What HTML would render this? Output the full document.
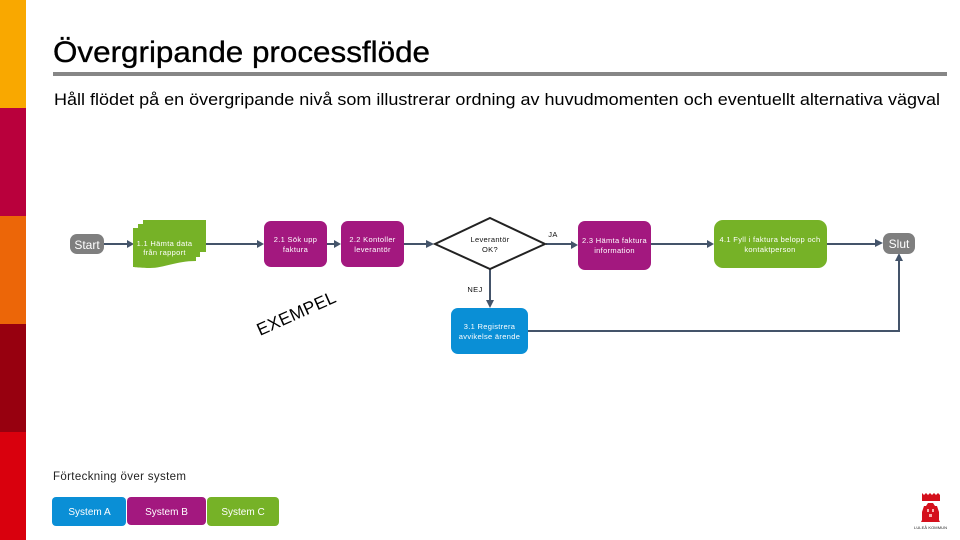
<!DOCTYPE html>
<html><head><meta charset="utf-8"><style>
html,body{margin:0;padding:0;background:#fff;width:960px;height:540px;overflow:hidden}
svg{display:block}
text{font-family:"Liberation Sans",Arial,sans-serif}
.s{font-size:7.5px;fill:#fff;text-anchor:middle;letter-spacing:.32px}
.k{font-size:7.5px;fill:#111;text-anchor:middle;letter-spacing:.32px}
.l{stroke:#44546a;stroke-width:2;fill:none}
.a{fill:#44546a}
</style></head><body>
<svg width="960" height="540" viewBox="0 0 960 540" xmlns="http://www.w3.org/2000/svg">
<rect x="0" y="0" width="26" height="108" fill="#f9a800"/>
<rect x="0" y="108" width="26" height="108" fill="#b9003c"/>
<rect x="0" y="216" width="26" height="108" fill="#ec6608"/>
<rect x="0" y="324" width="26" height="108" fill="#97000f"/>
<rect x="0" y="432" width="26" height="108" fill="#d9000d"/>
<text x="53" y="62" font-size="29.500" fill="#000" stroke="#000" stroke-width=".35" textLength="377" lengthAdjust="spacingAndGlyphs">Övergripande processflöde</text>
<rect x="53" y="72" width="894" height="4" fill="#868686"/>
<text x="54" y="105" font-size="17" fill="#000" textLength="886" lengthAdjust="spacingAndGlyphs">Håll flödet på en övergripande nivå som illustrerar ordning av huvudmomenten och eventuellt alternativa vägval</text>

<!-- connectors -->
<path class="l" d="M104 244H128M206 244H258M327 244H336M404 244H428M546 244H572M651 244H708M827 244H877M490 269V301M528 331H899V259"/>
<path class="a" d="M134 244l-7-4v8zM264 244l-7-4v8zM341 244l-7-4v8zM434 244l-8-4v8zM578 245l-7-4v8zM714 244l-7-4v8zM883 243l-8-4v8zM490 308l-4-8h8zM899 253l-4 8h8z"/>

<!-- start -->
<rect x="70" y="234" width="34" height="20" rx="7" fill="#7f7f7f"/>
<text x="87" y="249" font-size="12" fill="#fff" text-anchor="middle">Start</text>

<!-- multi document -->
<path d="M143 220H206V252H200V257H196V261C176 261 164 268 150 268C142 268 133 267 133 267V228H138V224H143Z" fill="#76b227"/>
<text class="s" x="164.500" y="246">1.1 Hämta data</text>
<text class="s" x="164.500" y="255">från rapport</text>

<rect x="264" y="221" width="63" height="46" rx="7" fill="#a3187f"/>
<text class="s" x="295.500" y="242">2.1 Sök upp</text>
<text class="s" x="295.500" y="252">faktura</text>

<rect x="341" y="221" width="63" height="46" rx="7" fill="#a3187f"/>
<text class="s" x="372.500" y="242">2.2 Kontoller</text>
<text class="s" x="372.500" y="252">leverantör</text>

<path d="M490 218L545 244L490 269L435 244Z" fill="#fff" stroke="#222" stroke-width="2"/>
<text class="k" x="490" y="242">Leverantör</text>
<text class="k" x="490" y="252">OK?</text>

<text class="k" x="553" y="237">JA</text>
<text class="k" x="475" y="292">NEJ</text>

<rect x="578" y="221" width="73" height="49" rx="7" fill="#a3187f"/>
<text class="s" x="614.500" y="243">2.3 Hämta faktura</text>
<text class="s" x="614.500" y="253">information</text>

<rect x="451" y="308" width="77" height="46" rx="7" fill="#0a8fd6"/>
<text class="s" x="489.500" y="329">3.1 Registrera</text>
<text class="s" x="489.500" y="339">avvikelse ärende</text>

<rect x="714" y="220" width="113" height="48" rx="9" fill="#76b227"/>
<text class="s" x="770" y="242">4.1 Fyll i faktura belopp och</text>
<text class="s" x="770" y="252">kontaktperson</text>

<rect x="883" y="233" width="32" height="21" rx="7" fill="#7f7f7f"/>
<text x="899" y="248" font-size="12" fill="#fff" text-anchor="middle">Slut</text>

<text transform="translate(260,336) rotate(-24)" font-size="17.500" fill="#000" letter-spacing=".3">EXEMPEL</text>

<text x="53" y="480" font-size="11.500" fill="#222" letter-spacing=".35">Förteckning över system</text>
<rect x="52" y="497" width="74" height="29" rx="4" fill="#0a8fd6"/>
<rect x="127" y="497" width="79" height="28" rx="4" fill="#a3187f"/>
<rect x="207" y="497" width="72" height="29" rx="4" fill="#76b227"/>
<text x="89.500" y="515" font-size="10" fill="#fff" text-anchor="middle">System A</text>
<text x="166.500" y="515" font-size="10" fill="#fff" text-anchor="middle">System B</text>
<text x="243" y="515" font-size="10" fill="#fff" text-anchor="middle">System C</text>

<!-- logo -->
<path d="M922 493l2 2 2-2 2 2 2-2 2 2 2-2 2 2 2-2 2 2v6h-18z" fill="#d4101c"/>
<path d="M928 503h5l2 3h2l2 6v8l1 2h-19l1-2v-8l2-6h2z" fill="#d4101c"/>
<path d="M927 509h2v3h-2zM932 509h2v3h-2zM929 514h3v3h-3z" fill="#f7b0b0"/>
<text x="930.500" y="529" font-size="4" fill="#222" text-anchor="middle" textLength="33" lengthAdjust="spacing">LULEÅ KOMMUN</text>
</svg>
</body></html>
